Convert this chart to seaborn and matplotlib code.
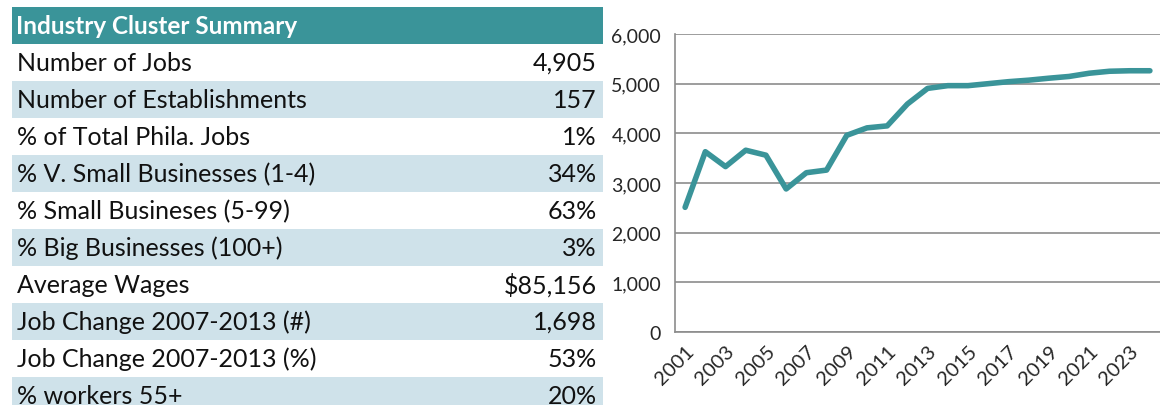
import numpy as np
import pandas as pd
import seaborn as sns
import matplotlib.pyplot as plt

# Summary table data
row_labels = ['Number of Jobs', 'Number of Establishments', '% of Total Phila. Jobs',
              '% V. Small Businesses (1-4)', '% Small Busineses (5-99)', '% Big Businesses (100+)',
              'Average Wages', 'Job Change 2007-2013 (#)', 'Job Change 2007-2013 (%)', '% workers 55+']
row_values = ['4,905', '157', '1%', '34%', '63%', '3%', '$85,156', '1,698', '53%', '20%']
table_title = 'Industry Cluster Summary'

# Jobs by year
years = [2001, 2002, 2003, 2004, 2005, 2006, 2007, 2008, 2009, 2010, 2011, 2012,
         2013, 2014, 2015, 2016, 2017, 2018, 2019, 2020, 2021, 2022, 2023, 2024]
jobs = [2510, 3630, 3330, 3660, 3560, 2880, 3207, 3260, 3960, 4110, 4150, 4590,
        4905, 4960, 4960, 5000, 5040, 5070, 5110, 5145, 5210, 5250, 5260, 5260]

teal = '#3a9499'
light = '#cfe2ea'
grey = '#8c8c8c'

sns.set_style('white')
plt.rcParams['font.family'] = ['Lato', 'DejaVu Sans']

W, H = 1160, 406
fig = plt.figure(figsize=(W / 100, H / 100), dpi=100)

# ---- table ----
row_h = 37
top = 8
ax_t = fig.add_axes([12 / W, 0, (603 - 12) / W, 1])
ax_t.set_xlim(0, 591)
ax_t.set_ylim((H - top) / row_h, -top / row_h)
ax_t.axis('off')

ax_t.axhspan(0, 1, color=teal, lw=0)
ax_t.text(4, 0.5, table_title, color='white', fontsize=17.5, fontweight='bold', va='center', ha='left')
for i, (lab, val) in enumerate(zip(row_labels, row_values)):
    r = i + 1
    if i % 2 == 1:
        ax_t.axhspan(r, r + 1, color=light, lw=0)
    ax_t.text(5, r + 0.5, lab, fontsize=18, va='center', ha='left', color='#111111')
    ax_t.text(585, r + 0.5, val, fontsize=18, va='center', ha='right', color='#111111')

# ---- line chart ----
ax = fig.add_axes([675 / W, (H - 333) / H, (W - 675) / W, (333 - 35) / H])
df = pd.DataFrame({'pos': np.arange(len(years)), 'jobs': jobs})
sns.lineplot(data=df, x='pos', y='jobs', ax=ax, color=teal, lw=4, solid_capstyle='round', clip_on=False)

ax.set_xlim(-0.5, -0.5 + (W - 675) / 20.47)
ax.set_ylim(0, 6000)
ax.set_yticks(range(0, 6001, 1000))
ax.set_yticklabels([f'{v:,}' for v in range(0, 6001, 1000)], fontsize=14)
label_pos = [i for i, y in enumerate(years) if y % 2 == 1 and y <= 2023]
ax.set_xticks(label_pos)
ax.set_xticklabels([str(years[i]) for i in label_pos], rotation=45, ha='right',
                   rotation_mode='anchor', fontsize=14.5)
ax.set_xticks(np.arange(-0.5, len(years), 1), minor=True)
ax.tick_params(axis='x', which='major', length=0, pad=7)
ax.tick_params(axis='x', which='minor', length=5, width=1.2, color=grey, direction='out')
ax.tick_params(axis='y', length=5, width=1.2, color=grey, direction='out', pad=5)
ax.grid(axis='y', color=grey, lw=1.2)
ax.set_axisbelow(True)
for s in ['top', 'right']:
    ax.spines[s].set_visible(False)
for s in ['left', 'bottom']:
    ax.spines[s].set_color(grey)
    ax.spines[s].set_linewidth(1.2)
ax.set_xlabel('')
ax.set_ylabel('')

fig.savefig('out.png', dpi=100)
